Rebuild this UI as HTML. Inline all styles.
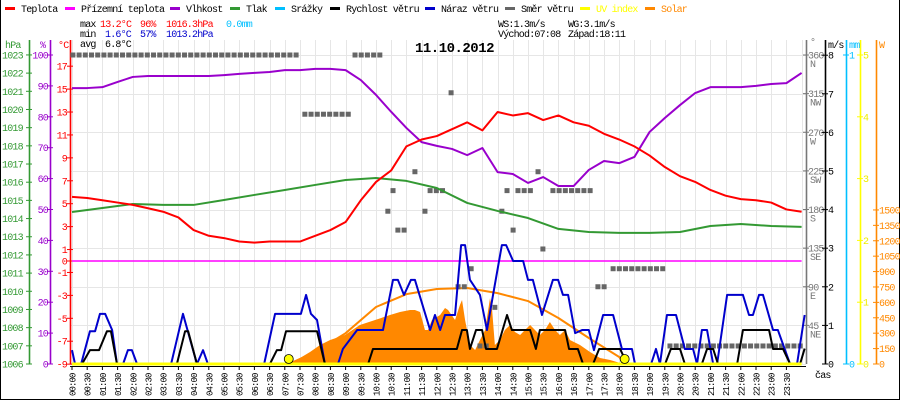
<!DOCTYPE html>
<html><head><meta charset="utf-8"><style>
body{margin:0;background:#fff}
svg{display:block}
text{font-family:"Liberation Mono",monospace;font-size:10px;letter-spacing:-0.8px}
</style></head><body>
<svg id="c" width="900" height="400" viewBox="0 0 900 400" xmlns="http://www.w3.org/2000/svg">
<rect x="0" y="0" width="900" height="400" fill="#fff"/>
<line x1="0.5" y1="0" x2="0.5" y2="400" stroke="#000"/>
<line x1="899.5" y1="0" x2="899.5" y2="400" stroke="#000"/>
<line x1="0" y1="399.5" x2="900" y2="399.5" stroke="#000"/>
<g id="grid"></g>
<g id="legend"></g>
<g id="stats">
<text x="80" y="27">max</text><text x="100" y="27" fill="#f00">13.2°C</text><text x="140" y="27" fill="#f00">96%</text><text x="166" y="27" fill="#f00">1016.3hPa</text><text x="226" y="27" fill="#00bfff">0.0mm</text>
<text x="80" y="37">min</text><text x="105" y="37" fill="#00c">1.6°C</text><text x="140" y="37" fill="#00c">57%</text><text x="166" y="37" fill="#00c">1013.2hPa</text>
<text x="80" y="47">avg</text><text x="105" y="47">6.8°C</text>
<text x="498" y="27">WS:1.3m/s</text><text x="568" y="27">WG:3.1m/s</text>
<text x="498" y="37">Východ:07:08</text><text x="568" y="37">Západ:18:11</text>
</g>
<text x="415" y="52" style="font-size:14px;font-weight:bold;letter-spacing:-0.5px">11.10.2012</text>
<g id="axes"></g>
<g id="series"></g>
<text x="815" y="378">čas</text>
</svg>
<script>
// ---- data ----
const halfHours = [0,0.5,1,1.5,2,2.5,3,3.5,4,4.5,5,5.5,6,6.5,7,7.5,8,8.5,9,9.5,10,10.5,11,11.5,12,12.5,13,13.5,14,14.5,15,15.5,16,16.5,17,17.5,18,18.5,19,19.5,20,20.5,21,21.5,22,22.5,23,23.5,24];
const tempC = [5.6,5.5,5.3,5.1,4.9,4.6,4.3,3.8,2.7,2.2,2.0,1.7,1.6,1.7,1.7,1.7,2.2,2.7,3.4,5.3,6.9,7.9,10.0,10.6,10.9,11.5,12.1,11.4,13.0,12.7,12.9,12.3,12.7,12.1,11.8,11.1,10.6,10.0,9.2,8.2,7.4,6.9,6.2,5.7,5.4,5.3,5.1,4.5,4.3];
const humidity = [89.3,89.3,89.6,91.3,92.9,93.2,93.2,93.2,93.2,93.2,93.5,93.9,94.2,94.5,95.1,95.1,95.5,95.5,95.1,91.9,87.1,81.6,76.4,71.8,70.6,69.6,67.6,69.9,62.1,61.5,58.6,60.5,57.6,57.6,62.8,65.7,65.0,67.0,75.1,79.6,83.8,87.7,89.6,89.6,89.6,90.0,90.6,90.9,94.2];
const hours = [0,1,2,3,4,5,6,7,8,9,10,11,12,13,14,15,16,17,18,19,20,21,22,23,24];
const pressure = [1014.36,1014.58,1014.80,1014.75,1014.75,1015.02,1015.30,1015.57,1015.85,1016.12,1016.23,1016.07,1015.68,1014.86,1014.42,1014.03,1013.43,1013.26,1013.21,1013.21,1013.26,1013.59,1013.70,1013.59,1013.54];
const groundTemp = [0,0,0,0,0,0,0,0,0,0,0,0,0,0,0,0,0,0,0,0,0,0,0,0,0];
const gustTimes = [0,0.1,0.3,0.59,0.76,0.92,1.09,1.32,1.48,1.68,1.84,1.97,2.14,3.26,3.65,4.11,4.31,4.47,6.32,6.68,7.53,7.7,7.86,8.06,8.32,8.75,8.91,9.38,10.23,10.56,10.72,10.92,11.15,11.28,11.78,11.94,12.11,12.27,12.6,12.8,12.93,13.09,13.42,13.65,13.85,14.14,14.28,14.51,14.84,15.0,15.16,15.46,15.82,15.99,16.15,16.32,16.55,16.78,17.0,17.17,17.47,17.8,18.09,18.42,18.52,19.05,19.21,19.34,19.57,19.87,20.16,20.43,20.56,20.72,20.89,21.09,21.22,21.55,22.07,22.27,22.4,22.6,22.73,23.06,23.22,23.62,23.85,24.1];
const gustVals = [0.36,0,0,0.85,0.85,1.3,1.3,0.88,0,0,0.36,0.36,0,0,1.3,0,0.36,0,0,1.3,1.3,1.79,1.3,1.14,0,0,0.39,0.88,0.88,2.18,2.18,1.79,2.18,2.18,0.88,1.27,0.88,1.27,1.27,3.08,3.08,2.18,1.79,0.88,1.79,3.08,3.08,2.67,2.67,2.18,2.18,1.27,2.18,2.18,1.79,1.79,0.8,0.88,0.88,0.36,1.27,1.27,0.39,0.39,0,0,0.39,0,1.27,1.27,0.39,0.39,0,0.88,0.88,0,0,1.79,1.79,1.27,1.27,1.79,1.79,0.88,0.88,0,0,1.27];
const windTimes = [0,0.33,0.59,0.89,1.15,1.28,1.48,3.45,3.72,3.82,4.11,6.51,6.74,6.88,7.04,8.06,8.32,9.74,9.9,12.66,12.83,12.99,13.09,13.29,13.49,13.62,13.98,14.31,14.47,15.07,15.26,15.39,16.22,16.35,16.64,16.81,17.14,17.34,18.03,18.26,19.51,19.7,20.0,20.16,20.72,20.89,21.09,21.25,21.88,22.07,22.93,23.06,23.39,23.62,23.95,24.1];
const windVals = [0,0,0.36,0.36,0.85,0.85,0,0,0.85,0.85,0,0,0.36,0.36,0.85,0.85,0,0,0.39,0.39,0.88,0.88,0.39,0.88,0.88,0.39,0.39,1.27,0.88,0.88,0.39,0.88,0.88,0.39,0.39,0,0,0.39,0.39,0,0,0.39,0.39,0,0,0.39,0.39,0,0,0.88,0.88,0.39,0.39,0,0,0.4];
const dirStart = [0.03,7.66,9.31,10.56,10.39,10.72,11.28,11.78,11.61,12.47,12.7,13.13,13.42,13.91,14.14,14.31,14.51,14.67,15.33,15.49,15.82,17.3,17.8,19.67];
const dirEnd   = [7.5,9.14,10.3,10.56,10.39,11.12,11.45,12.34,11.61,12.47,12.99,13.32,13.75,13.91,14.14,14.31,14.51,15.16,15.33,15.69,17.2,17.7,19.6,24.1];
const dirDeg   = [360,291,360,202,178,156,224,202,178,316,90,111,21,66,178,202,156,202,224,134,202,90,111,21];
const solarTimes = [7.17,7.5,7.83,8.16,8.49,8.98,9.47,9.97,10.46,10.79,11.12,11.28,11.45,11.61,11.71,11.84,12.11,12.27,12.37,12.6,12.76,12.83,12.93,13.09,13.26,13.42,13.59,13.75,13.82,13.91,14.08,14.24,14.41,14.57,14.74,14.9,15.07,15.23,15.39,15.56,15.72,15.89,16.05,16.22,16.38,16.71,17.04,17.37,17.7,18.03,18.36];
const solarW = [0,58,117,185,234,282,380,428,477,506,526,526,506,331,331,428,477,545,526,428,574,623,428,185,136,234,331,643,526,185,234,331,380,312,282,331,380,331,282,331,409,331,282,331,234,185,117,58,39,10,0];
const solarMaxTimes = [7.13,8,9,10,11,12,13,14,15,16,17,18,18.18];
const solarMaxW = [0,117,300,555,680,730,740,690,613,448,253,68,0];
const sunEvents = [7.13,18.18];
const uvVals = [0,0,0,0,0,0,0,0,0,0,0,0,0,0,0,0,0,0,0,0,0,0,0,0,0];
const legendLabels = ["Teplota","Přízemní teplota","Vlhkost","Tlak","Srážky","Rychlost větru","Náraz větru","Směr větru","UV index","Solar"];
const legendColors = ["#f00","#f0f","#90c","#393","#00bfff","#000","#00c","#666","#ff0","#f80"];
const legendXs = [25,85,190,250,295,350,445,525,600,665];
const hpaTicks = [1023,1022,1021,1020,1019,1018,1017,1016,1015,1014,1013,1012,1011,1010,1009,1008,1007,1006];
const pctTicks = [100,90,80,70,60,50,40,30,20,10,0];
const cTicks = [17,15,13,11,9,7,5,3,1,0,-1,-3,-5,-7,-9];
const dirTicks = [360,315,270,225,180,135,90,45];
const dirNames = ["N","NW","W","SW","S","SE","E","NE"];
const msTicks = [8,7,6,5,4,3,2,1,0];
const uvTicks = [5,4,3,2,1,0];
const solarTicks = [1500,1350,1200,1050,900,750,600,450,300,150,0];

// ---- scales ----
const xh = h => 72 + h*30.4;
const yT = c => 261 - c*11.46;
const yP = p => 364 - (p-1006)*18.18;
const yH = v => 364 - v*3.09;
const yW = v => 364 - v*38.6;
const yD = d => 364 - d*309/360;
const yUV = v => 364 - v*61.8;
const yS = w => 364 - w*0.1027;

const NS = "http://www.w3.org/2000/svg";
function mk(tag, attrs, parent){ const e=document.createElementNS(NS,tag); for(const k in attrs) e.setAttribute(k,attrs[k]); parent.appendChild(e); return e; }
const G = id => document.getElementById(id);
const grid=G('grid'), axes=G('axes'), ser=G('series'), leg=G('legend');

// grid
for(let i=0;i<=48;i++){ const x=Math.round(xh(i/2))+0.5;
  const l=mk('line',{x1:x,y1:40,x2:x,y2:364,stroke:'#e6e6e6'},grid);
  
  
}
for(const v of msTicks){ const y=Math.round(yW(v))+0.5;
  const l=mk('line',{x1:70,y1:y,x2:806,y2:y,stroke:'#e6e6e6'},grid);
  
  
}

// legend
legendLabels.forEach((t,i)=>{
  const g=mk('g',{},leg);
  
  
  mk('line',{x1:legendXs[i]-20,y1:8.5,x2:legendXs[i]-10,y2:8.5,stroke:legendColors[i],'stroke-width':3},g);
  const tx=mk('text',{x:legendXs[i]-4,y:12,fill:(i>=8?legendColors[i]:'#000')},g); tx.textContent=t;
});

// axes helper
function vAxis(x,color,y1){ const l=mk('line',{x1:x+0.5,y1:y1,x2:x+0.5,y2:364,stroke:color,'stroke-width':1.6},axes);
  
   }
function lab(x,y,t,color,anchor){ const e=mk('text',{x:x,y:y,fill:color,'text-anchor':anchor||'start'},axes); e.textContent=t;
  
   return e; }
vAxis(29,'#393',40); vAxis(50,'#90c',40); vAxis(70,'#f00',40);
vAxis(806,'#777',40); vAxis(825,'#000',40); vAxis(846,'#00bfff',40); vAxis(860,'#ff0',40); vAxis(876,'#f80',40);
lab(5,48,'hPa','#393'); lab(40,48,'%','#90c'); lab(58,48,'°C','#f00');
lab(810,45,'°','#777'); lab(828,48,'m/s','#000'); lab(849,48,'mm','#00bfff'); lab(879,48,'W','#f80');
hpaTicks.forEach(v=>{ const y=yP(v); lab(2,y+3.5,String(v),'#393'); mk('line',{x1:26,y1:y,x2:32,y2:y,stroke:'#393'},axes); });
pctTicks.forEach(v=>{ const y=yH(v); lab(48,y+3.5,String(v),'#90c','end'); mk('line',{x1:47,y1:y,x2:53,y2:y,stroke:'#90c'},axes); });
cTicks.forEach(v=>{ const y=yT(v); lab(67,y+3.5,String(v),'#f00','end'); mk('line',{x1:67,y1:y,x2:73,y2:y,stroke:'#f00'},axes); });
dirTicks.forEach((v,i)=>{ const y=yD(v); lab(808,y+3.5,String(v),'#777'); lab(810,y+12,dirNames[i],'#777'); mk('line',{x1:803,y1:y,x2:809,y2:y,stroke:'#777'},axes); });
msTicks.forEach(v=>{ const y=yW(v); lab(828,y+3.5,String(v),'#000'); mk('line',{x1:822,y1:y,x2:828,y2:y,stroke:'#000'},axes); });
[1,0].forEach(v=>{ const y=364-v*309; lab(849,y+3.5,String(v),'#00bfff'); mk('line',{x1:843,y1:y,x2:849,y2:y,stroke:'#00bfff'},axes); });
uvTicks.forEach(v=>{ const y=yUV(v); lab(863,y+3.5,String(v),'#ee0'); mk('line',{x1:857,y1:y,x2:863,y2:y,stroke:'#ff0'},axes); });
solarTicks.forEach(v=>{ const y=yS(v); lab(879,y+3.5,String(v),'#f80'); mk('line',{x1:873,y1:y,x2:879,y2:y,stroke:'#f80'},axes); });
// x axis
mk('line',{x1:70,y1:366.5,x2:806,y2:366.5,stroke:'#000','stroke-width':1},axes);
for(let i=0;i<48;i++){ const x=xh(i/2); const hh=String(Math.floor(i/2)).padStart(2,'0'); const t=hh+':'+(i%2?'30':'00');
  mk('line',{x1:x,y1:366,x2:x,y2:370,stroke:'#000'},axes);
  const e=mk('text',{transform:`translate(${x+3.5},396) rotate(-90)`,style:'font-size:9px;letter-spacing:-0.9px'},axes); e.textContent=t;
  
  
}

// series
function poly(xs,ys,color,w,name){ const p=mk('polyline',{points:xs.map((x,i)=>x+','+ys[i]).join(' '),fill:'none',stroke:color,'stroke-width':w,'stroke-linejoin':'round'},ser);
  
   return p; }
// solar fill
const sp=mk('polygon',{points:[xh(solarTimes[0])+','+364].concat(solarTimes.map((t,i)=>xh(t)+','+yS(solarW[i]))).concat([xh(solarTimes[solarTimes.length-1])+','+364]).join(' '),fill:'#f80'},ser);


poly(solarMaxTimes.map(xh),solarMaxW.map(yS),'#f80',2,'solar-max-line');
// wind direction squares
dirStart.forEach((s,i)=>{ const x1=xh(s), x2=xh(dirEnd[i]), y=yD(dirDeg[i]);
  for(let x=x1;x<=x2+0.1;x+=6.2){ const r=mk('rect',{x:x-2.5,y:y-2.5,width:5,height:5,fill:'#666'},ser);
    
     }
});
poly(hours.map(xh),groundTemp.map(yT),'#f0f',1.5,'ground-temp-line');
poly(hours.map(xh),pressure.map(yP),'#393',2,'pressure-line');
poly(halfHours.map(xh),humidity.map(yH),'#90c',2,'humidity-line');
poly(halfHours.map(xh),tempC.map(yT),'#f00',2,'temperature-line');
poly(gustTimes.map(xh),gustVals.map(yW),'#00c',2,'gust-line');
poly(windTimes.map(xh),windVals.map(yW),'#000',2,'wind-speed-line');
poly(hours.map(xh),uvVals.map(yUV),'#ff0',3,'uv-line');
sunEvents.forEach(t=>{ const c=mk('circle',{cx:xh(t),cy:359,r:4.5,fill:'#ff0',stroke:'#000','stroke-width':0.8},ser);
  
   });
</script>
</body></html>
